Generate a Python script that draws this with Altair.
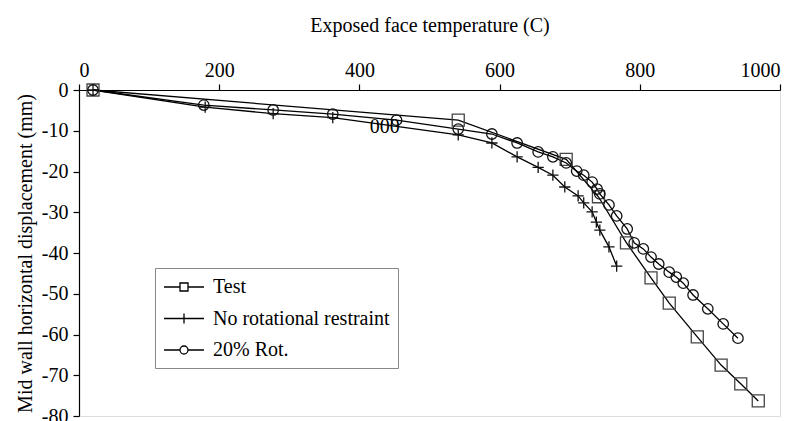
import altair as alt
import pandas as pd

# Series names
series_names = ["Test", "No rotational restraint", "20% Rot."]

# Test (squares)
test_temp = [20, 541, 695, 741, 781, 816, 842, 882, 916, 944, 969]
test_disp = [0, -7.4, -17.0, -26.2, -37.5, -46.1, -52.3, -60.6, -67.5, -72.1, -76.3]

# No rotational restraint (plus markers)
norot_temp = [20, 180, 277, 362, 541, 589, 625, 655, 676, 693, 712, 720, 732, 738, 743, 756, 767]
norot_disp = [0, -4.2, -5.8, -6.8, -11.0, -13.0, -16.4, -19.0, -20.9, -23.8, -26.0, -27.7,
              -29.9, -32.4, -34.4, -38.5, -43.2]

# 20% rotational restraint (circles)
rot20_temp = [20, 178, 277, 362, 453, 541, 589, 625, 655, 676, 695, 710, 720, 732, 739, 743,
              756, 767, 782, 792, 805, 816, 827, 842, 852, 862, 876, 897, 919, 940]
rot20_disp = [0, -3.7, -4.9, -5.9, -7.4, -9.6, -10.8, -13.0, -15.2, -16.4, -17.9, -19.9, -20.9,
              -22.6, -24.3, -25.5, -28.2, -30.9, -34.1, -37.5, -39.0, -41.0, -42.7, -44.7,
              -45.9, -47.4, -50.3, -53.7, -57.4, -60.9]

# Stray label inside the plot
note_text = ["000"]
note_temp = [436]
note_disp = [-9.1]

x_ticks = [0, 200, 400, 600, 800, 1000]
y_ticks = [0, -10, -20, -30, -40, -50, -60, -70, -80]

frames = []
for name, t, d in zip(series_names, [test_temp, norot_temp, rot20_temp],
                      [test_disp, norot_disp, rot20_disp]):
    frames.append(pd.DataFrame({"series": name, "temp": t, "disp": d}))
df = pd.concat(frames, ignore_index=True)
notes = pd.DataFrame({"label": note_text, "temp": note_temp, "disp": note_disp})

FONT = "Liberation Serif"
FS = 20

x_enc = alt.X(
    "temp:Q",
    scale=alt.Scale(domain=[0, 1000], nice=False, zero=False),
    axis=alt.Axis(
        orient="top", values=x_ticks, format="d", title="Exposed face temperature (C)",
        grid=False, tickSize=6, labelPadding=4, titlePadding=25,
        domainColor="black", tickColor="black", labelColor="black", titleColor="black",
        labelFont=FONT, titleFont=FONT, labelFontSize=FS, titleFontSize=FS,
        titleFontWeight="normal", domainWidth=1.2, tickWidth=1.2,
    ),
)
y_enc = alt.Y(
    "disp:Q",
    scale=alt.Scale(domain=[-80, 0], nice=False, zero=False),
    axis=alt.Axis(
        values=y_ticks, labelExpr="'' + datum.value",
        title="Mid wall horizontal displacement (mm)",
        grid=False, tickSize=6, labelPadding=5, titlePadding=6,
        domainColor="black", tickColor="black", labelColor="black", titleColor="black",
        labelFont=FONT, titleFont=FONT, labelFontSize=FS, titleFontSize=FS,
        titleFontWeight="normal", domainWidth=1.2, tickWidth=1.2,
    ),
)

# Marker shapes on the plot
marker_shapes = ["square", "M-1,0H1M0,-1V1", "circle"]
marker_sizes = [144, 110, 121]

# Legend glyphs: a short line with the marker in its middle
legend_glyphs = [
    "M-1,0H0.6M1.4,0H3M0.6,-0.4H1.4V0.4H0.6Z",
    "M-1,0H3M1,-0.5V0.5",
    "M-1,0H0.6M1.4,0H3M0.6,0A0.4,0.4,0,1,1,1.4,0A0.4,0.4,0,1,1,0.6,0",
]

lines = alt.Chart(df).mark_line(color="black", strokeWidth=1.3).encode(
    x=x_enc, y=y_enc, detail="series:N"
)

points = alt.Chart(df).mark_point(filled=False, strokeWidth=1.3, opacity=1).encode(
    x=x_enc,
    y=y_enc,
    shape=alt.Shape("series:N", scale=alt.Scale(domain=series_names, range=marker_shapes),
                    legend=None),
    size=alt.Size("series:N", scale=alt.Scale(domain=series_names, range=marker_sizes),
                  legend=None),
    color=alt.Color("series:N", scale=alt.Scale(domain=series_names,
                                                range=["#444444", "#111111", "#111111"]),
                    legend=None),
)

# Invisible layer that only carries the legend (line + marker glyphs)
legend_layer = alt.Chart(df).mark_point(
    filled=False, opacity=0, color="black", strokeWidth=1.3
).encode(
    x=x_enc,
    y=y_enc,
    shape=alt.Shape(
        "series:N",
        scale=alt.Scale(domain=series_names, range=legend_glyphs),
        legend=alt.Legend(
            title=None, orient="none", legendX=76, legendY=178,
            padding=8, rowPadding=10.5, symbolSize=400, symbolStrokeWidth=1.3,
            symbolStrokeColor="black", symbolFillColor="transparent", symbolOpacity=1,
            labelOffset=28, labelFont=FONT, labelFontSize=FS, labelColor="black",
            strokeColor="#888888", fillColor="white", cornerRadius=0,
            labelLimit=400,
        ),
    ),
)

note = alt.Chart(notes).mark_text(font=FONT, fontSize=FS, color="black").encode(
    x=alt.X("temp:Q"), y=alt.Y("disp:Q"), text="label:N"
)

chart = alt.layer(lines, points, note, legend_layer).resolve_scale(
    shape="independent", size="independent", color="independent"
).properties(
    width=701, height=326,
    autosize=alt.AutoSizeParams(type="none"),
    padding={"left": 79, "top": 90, "right": 26, "bottom": 5},
).configure_view(stroke=None).configure(background="white")

chart.save("out.html", embed_options={"renderer": "svg", "actions": False})
